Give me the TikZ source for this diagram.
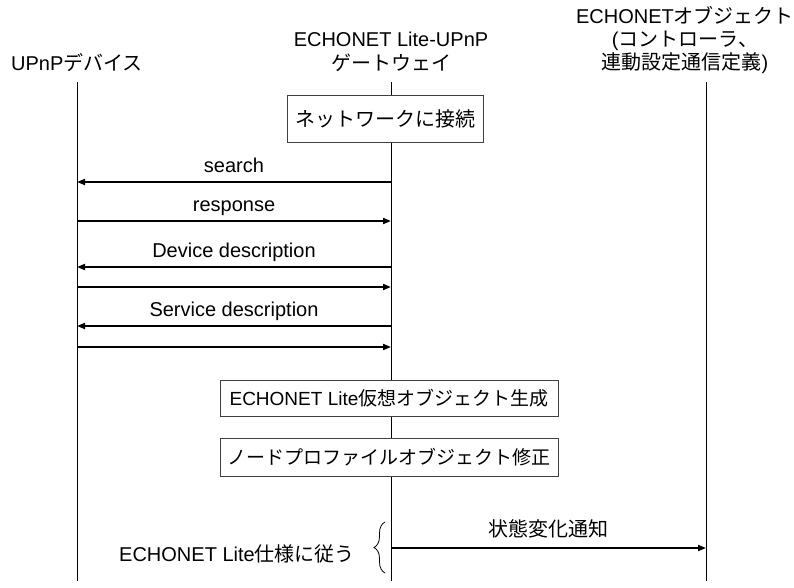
\documentclass[tikz,border=0pt]{standalone}
\usepackage{fontspec}
\setmainfont{Liberation Sans}
\newfontfamily\jpfont{Noto Sans CJK JP}
\newcommand{\ja}[1]{{\jpfont #1}}
\usetikzlibrary{arrows.meta,decorations.pathreplacing}

\tikzset{
    lifeline/.style={line width=1pt},
    msg/.style={line width=1.8pt, -{Triangle[length=8pt,width=6pt]}},
    msglabel/.style={anchor=base, inner sep=0pt, yshift=10pt},
    actbox/.style={draw=black!75, line width=0.8pt, fill=white, inner sep=2pt},
    head/.style={align=center, anchor=south, inner sep=0pt}
}

\begin{document}
\begin{tikzpicture}[x=1pt, y=-1pt, font=\fontsize{20}{23}\selectfont]
    \useasboundingbox (0,0) rectangle (794,587);

    % Draw the headers
    \node[head] (upnp) at (77,72) {UPnP\ja{デバイス}};
    \node[head] (gw) at (391,72) {ECHONET Lite-UPnP\\[1pt]\ja{ゲートウェイ}};
    \node[head] (obj) at (685,74) {ECHONET\ja{オブジェクト}\\(\ja{コントローラ、}\\\ja{連動設定通信定義})};

    % Draw the lifelines
    \coordinate (upnptop) at (77,82);
    \coordinate (upnpend) at (77,581);
    \coordinate (gwtop) at (391,82);
    \coordinate (gwend) at (391,581);
    \coordinate (objtop) at (706,82);
    \coordinate (objend) at (706,581);
    \draw[lifeline] (upnptop) -- (upnpend);
    \draw[lifeline] (gwtop) -- (gwend);
    \draw[lifeline] (objtop) -- (objend);

    % Draw the gateway steps
    \node[actbox, minimum width=196pt, minimum height=47pt] (connect) at (385,118.5) {\ja{ネットワークに接続}};
    \node[actbox, font=\fontsize{19}{22}\selectfont, minimum width=338pt, minimum height=36pt] (create) at (389,398.5) {ECHONET Lite\ja{仮想オブジェクト生成}};
    \node[actbox, font=\fontsize{19}{22}\selectfont, minimum width=338pt, minimum height=38pt] (modify) at (389,457) {\ja{ノードプロファイルオブジェクト修正}};

    % Draw the messages
    \coordinate (u1) at (77,182);  \coordinate (g1) at (391,182);
    \coordinate (u2) at (77,221);  \coordinate (g2) at (391,221);
    \coordinate (u3) at (77,267);  \coordinate (g3) at (391,267);
    \coordinate (u4) at (77,287);  \coordinate (g4) at (391,287);
    \coordinate (u5) at (77,326);  \coordinate (g5) at (391,326);
    \coordinate (u6) at (77,347);  \coordinate (g6) at (391,347);
    \draw[msg] (g1) -- node[msglabel] {search} (u1);
    \draw[msg] (u2) -- node[msglabel] {response} (g2);
    \draw[msg] (g3) -- node[msglabel] {Device description} (u3);
    \draw[msg] (u4) -- (g4);
    \draw[msg] (g5) -- node[msglabel] {Service description} (u5);
    \draw[msg] (u6) -- (g6);

    % Draw the notification
    \coordinate (g7) at (391,548);
    \coordinate (o7) at (706,548);
    \draw[msg] (g7) -- node[msglabel, yshift=2pt] {\ja{状態変化通知}} (o7);

    % Add the brace
    \coordinate (bracebot) at (385,573);
    \coordinate (bracetop) at (385,522);
    \draw[line width=0.8pt, decorate, decoration={brace, amplitude=11pt}] (bracebot) -- (bracetop);
    \node (rule) at (237,554) {ECHONET Lite\ja{仕様に従う}};
\end{tikzpicture}
\end{document}
